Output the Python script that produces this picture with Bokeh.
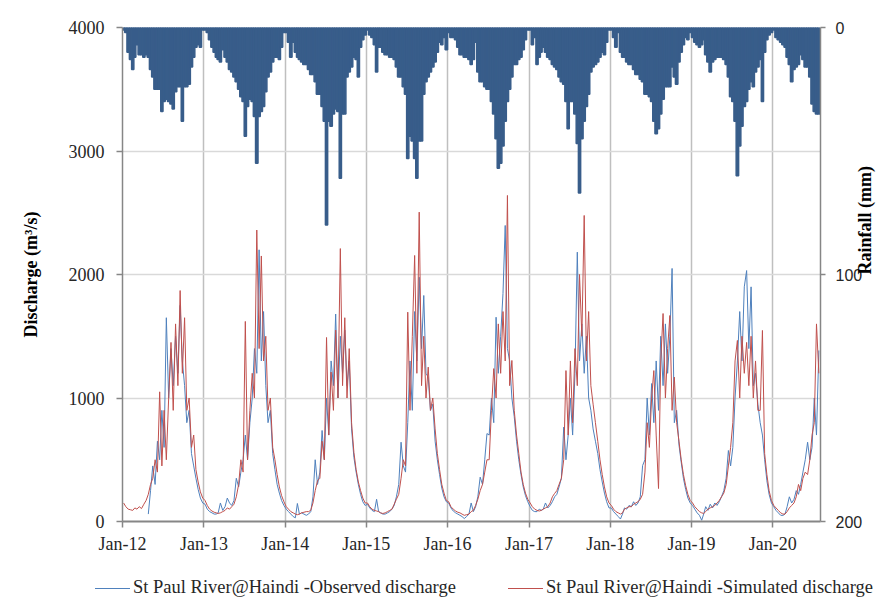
import datetime as dt
import math
from bokeh.plotting import figure
from bokeh.layouts import column
from bokeh.models import (ColumnDataSource, Range1d, LinearAxis, FixedTicker,
                          DatetimeTickFormatter, Div)
from bokeh.embed import file_html
from bokeh.resources import INLINE

N = None
years = [2012, 2013, 2014, 2015, 2016, 2017, 2018, 2019, 2020]
tick_years = [2012, 2013, 2014, 2015, 2016, 2017, 2018, 2019, 2020]
label_obs = "St Paul River@Haindi -Observed discharge"
label_sim = "St Paul River@Haindi -Simulated discharge"

# dekadal values (3 per month, Jan..Dec)
obs_2012 = [N, N, N, N, N, N, N, N, N, N, N, 60, 250, 450, 300, 650, 500, 900,
            600, 1650, 1000, 1400, 1100, 1500, 1200, 1750, 1300, 1100, 800, 900,
            550, 450, 350, 260, 190, 150]
sim_2012 = [150, 120, 100, 95, 90, 110, 100, 120, 105, 140, 170, 220, 300, 350, 500,
            400, 1050, 450, 900, 500, 1000, 1450, 900, 1600, 1100, 1870, 1200,
            1650, 900, 1000, 600, 700, 420, 320, 240, 190]
rain_2012 = [1, 2, 10, 13, 17, 12, 7, 11, 11, 12, 11, 12, 17, 20, 25, 25, 25, 34,
             30, 29, 30, 31, 33, 26, 24, 24, 38, 24, 24, 23, 16, 12, 8, 7, 8, 1]

obs_2013 = [140, 100, 80, 70, 60, 60, 70, 150, 90, 120, 190, 150, 130, 170, 350,
            280, 400, 500, 700, 500, 800, 1000, 1400, 1200, 2200, 1300, 1700,
            1100, 800, 900, 550, 420, 300, 230, 170, 130]
sim_2013 = [170, 130, 100, 85, 75, 70, 65, 70, 80, 90, 110, 100, 120, 140, 200,
            300, 500, 400, 1620, 500, 900, 1200, 1000, 2360, 1400, 2150, 1300,
            1500, 900, 1000, 600, 500, 380, 280, 210, 160]
rain_2013 = [1, 2, 5, 8, 10, 12, 13, 14, 9, 12, 14, 17, 18, 20, 22, 25, 28, 30,
             44, 32, 29, 30, 36, 55, 36, 34, 32, 26, 20, 18, 14, 12, 12, 13, 8, 2]

obs_2014 = [100, 80, 60, 40, 30, 146, 60, 70, 60, 50, 60, 80, 200, 500, 300,
            400, 737, 500, 1000, 700, 1300, 1100, 1680, 1000, 1500, 1200, 1550,
            1100, 1300, 750, 520, 400, 300, 220, 160, 130]
sim_2014 = [120, 100, 80, 70, 60, 55, 60, 70, 75, 80, 80, 90, 150, 250, 330,
            350, 650, 500, 1490, 700, 1210, 900, 1550, 1000, 2210, 1100, 1650,
            1000, 1400, 800, 560, 420, 320, 250, 190, 150]
rain_2014 = [2, 6, 12, 6, 10, 12, 13, 14, 15, 15, 17, 19, 19, 22, 27, 27, 32, 38,
             80, 38, 40, 35, 33, 34, 61, 35, 35, 20, 18, 16, 12, 13, 20, 8, 5, 3]

obs_2015 = [140, 110, 90, 80, 180, 80, 70, 60, 60, 70, 80, 100, 130, 200, 300,
            642, 450, 400, 800, 1300, 900, 1700, 1300, 1978, 1400, 1830, 1200,
            1168, 900, 950, 650, 500, 380, 270, 200, 160]
sim_2015 = [150, 120, 100, 90, 85, 80, 70, 65, 70, 80, 90, 100, 140, 180, 220,
            350, 500, 450, 1695, 900, 1500, 2154, 1200, 2505, 1100, 1500, 1000,
            1250, 900, 1000, 750, 550, 420, 300, 230, 170]
rain_2015 = [1, 3, 4, 7, 18, 8, 8, 10, 11, 11, 12, 12, 13, 16, 20, 20, 24, 27,
             53, 44, 46, 53, 61, 46, 46, 27, 22, 20, 18, 16, 14, 10, 6, 7, 4, 9]

obs_2016 = [150, 110, 85, 70, 60, 50, 40, 24, 40, 60, 150, 80, 120, 200, 359,
            300, 500, 712, 700, 1000, 800, 1654, 1200, 1500, 1846, 2397, 1400,
            1300, 1000, 850, 650, 500, 380, 280, 210, 160]
sim_2016 = [160, 120, 100, 85, 75, 70, 60, 50, 55, 60, 80, 90, 130, 180, 250,
            300, 400, 500, 500, 900, 1238, 1000, 1600, 1200, 1700, 1300, 2640,
            1100, 1304, 900, 700, 550, 400, 300, 230, 180]
rain_2016 = [2, 4, 4, 5, 8, 11, 11, 12, 12, 13, 15, 13, 6, 18, 22, 22, 24, 25,
             25, 30, 35, 45, 57, 55, 48, 38, 30, 25, 20, 15, 15, 13, 12, 9, 5, 1]

obs_2017 = [120, 90, 80, 80, 100, 90, 100, 150, 110, 130, 160, 200, 220, 280, 350,
            764, 500, 700, 1000, 700, 1200, 2181, 1300, 1600, 1200, 1500, 1000,
            900, 750, 650, 550, 420, 320, 230, 160, 110]
sim_2017 = [150, 120, 100, 90, 85, 90, 100, 110, 120, 150, 200, 227, 250, 300, 350,
            500, 1222, 700, 1300, 800, 1400, 1100, 2000, 1500, 2478, 1300, 1700,
            1100, 950, 800, 650, 500, 380, 280, 200, 150]
rain_2017 = [1, 7, 4, 15, 12, 10, 8, 10, 12, 13, 15, 16, 17, 20, 22, 23, 30, 41,
             30, 30, 35, 47, 67, 45, 38, 32, 27, 18, 16, 15, 14, 12, 10, 11, 6, 1]

obs_2018 = [110, 80, 60, 40, 20, 60, 110, 100, 130, 120, 160, 130, 150, 200, 453,
            500, 1000, 700, 1117, 800, 1300, 900, 1500, 1100, 1600, 1200, 1500,
            2049, 800, 900, 620, 480, 350, 260, 190, 150]
sim_2018 = [130, 100, 80, 70, 60, 70, 100, 110, 120, 120, 140, 150, 160, 180, 220,
            400, 800, 600, 1000, 1222, 700, 267, 1300, 1684, 1000, 1400, 1668,
            900, 1169, 800, 650, 500, 380, 290, 220, 170]
rain_2018 = [1, 4, 8, 2, 10, 12, 12, 14, 15, 15, 17, 19, 19, 21, 22, 27, 27, 28,
             30, 38, 43, 41, 35, 29, 24, 24, 24, 16, 20, 23, 14, 10, 7, 4, 5, 2]

obs_2019 = [130, 100, 70, 50, 10, 60, 120, 90, 140, 110, 150, 130, 160, 200, 250,
            350, 575, 450, 600, 1000, 1300, 1700, 1300, 1900, 2032, 1400, 1900,
            1100, 1200, 950, 800, 700, 500, 330, 220, 150]
sim_2019 = [150, 120, 100, 80, 70, 65, 80, 100, 110, 120, 130, 150, 170, 200, 230,
            300, 450, 600, 800, 1300, 1466, 1000, 1500, 1200, 1450, 1100, 1500,
            1000, 1300, 900, 900, 1547, 550, 380, 250, 170]
rain_2019 = [4, 6, 7, 8, 7, 5, 11, 14, 18, 14, 13, 12, 12, 12, 13, 15, 20, 28,
             30, 38, 60, 48, 40, 32, 30, 25, 22, 24, 18, 16, 13, 30, 10, 5, 3, 2]

obs_2020 = [120, 90, 70, 50, 49, 60, 120, 200, 150, 180, 250, 220, 300, 400, 500,
            642, 500, 600, 1000, 700, 1385]
sim_2020 = [130, 110, 90, 70, 60, 60, 80, 110, 130, 150, 200, 300, 250, 350, 400,
            380, 500, 700, 800, 1600, 1200]
rain_2020 = [1, 4, 5, 6, 7, 8, 12, 15, 22, 17, 16, 15, 11, 13, 16, 16, 20, 31,
             34, 35, 35]

obs_years = [obs_2012, obs_2013, obs_2014, obs_2015, obs_2016, obs_2017, obs_2018, obs_2019, obs_2020]
sim_years = [sim_2012, sim_2013, sim_2014, sim_2015, sim_2016, sim_2017, sim_2018, sim_2019, sim_2020]
rain_years = [rain_2012, rain_2013, rain_2014, rain_2015, rain_2016, rain_2017, rain_2018, rain_2019, rain_2020]


def dekad_bounds(year, i):
    m = i // 3 + 1
    k = i % 3
    start = dt.datetime(year, m, 1 + 10 * k)
    if k < 2:
        end = dt.datetime(year, m, 11 + 10 * k)
    else:
        end = dt.datetime(year + (1 if m == 12 else 0), m % 12 + 1, 1)
    return start, end


xs, lefts, rights, obs, sim, rain = [], [], [], [], [], []
for y, o_list, s_list, r_list in zip(years, obs_years, sim_years, rain_years):
    for i in range(len(s_list)):
        a, b = dekad_bounds(y, i)
        lefts.append(a)
        rights.append(b)
        xs.append(a + (b - a) / 2)
        o = o_list[i]
        obs.append(float("nan") if o is None else float(o))
        sim.append(float(s_list[i]))
        rain.append(float(r_list[i]))

src = ColumnDataSource(dict(x=xs, left=lefts, right=rights, obs=obs, sim=sim, rain=rain))

OBS_COLOR = "#4F81BD"
SIM_COLOR = "#C0504D"
RAIN_COLOR = "#385D8A"

p = figure(width=888, height=558, x_axis_type="datetime",
           x_range=Range1d(dt.datetime(2012, 1, 1), dt.datetime(2020, 8, 3)),
           y_range=Range1d(0, 4000),
           output_backend="svg", toolbar_location=None,
           min_border_left=122, min_border_right=66,
           min_border_top=27, min_border_bottom=37)
p.outline_line_color = None
p.background_fill_color = "white"
p.border_fill_color = "white"

p.extra_y_ranges = {"rain": Range1d(200, 0)}

epoch = dt.datetime(1970, 1, 1)
year_ticks = [(dt.datetime(y, 1, 1) - epoch).total_seconds() * 1000 for y in tick_years]
xticker = FixedTicker(ticks=year_ticks)

xa = p.xaxis[0]
xa.ticker = xticker
xa.formatter = DatetimeTickFormatter(years="%b-%y", months="%b-%y", days="%b-%y",
                                     hours="%b-%y", minutes="%b-%y", seconds="%b-%y",
                                     milliseconds="%b-%y", microseconds="%b-%y")
ya = p.yaxis[0]
ya.ticker = FixedTicker(ticks=[0, 1000, 2000, 3000, 4000])
ya.axis_label = "Discharge (m³/s)"

rain_axis = LinearAxis(y_range_name="rain", ticker=FixedTicker(ticks=[0, 100, 200]),
                       axis_label="Rainfall (mm)")
p.add_layout(rain_axis, "right")
try:
    rain_axis.axis_label_orientation = math.pi / 2
except Exception:
    pass

for ax in (xa, ya, rain_axis):
    ax.axis_line_color = "#868686"
    ax.axis_line_width = 1.5
    ax.major_tick_line_color = "#868686"
    ax.major_tick_line_width = 1.5
    ax.major_tick_out = 6
    ax.major_tick_in = 0
    ax.minor_tick_line_color = None
    ax.major_label_text_color = "#262626"
    ax.axis_label_text_color = "#000000"
    ax.axis_label_text_font = "Liberation Serif"
    ax.axis_label_text_font_style = "bold"
    ax.axis_label_text_font_size = "18px"

xa.axis_line_width = 2
xa.major_label_text_font = "Liberation Serif"
xa.major_label_text_font_size = "18px"
xa.major_label_standoff = 6
ya.major_label_text_font = "Liberation Serif"
ya.major_label_text_font_size = "18px"
ya.major_label_standoff = 12
ya.axis_label_standoff = 25
rain_axis.major_tick_out = 5
rain_axis.major_label_text_font = "Liberation Sans"
rain_axis.major_label_text_font_size = "16px"
rain_axis.major_label_standoff = 10
rain_axis.axis_label_standoff = 0

p.xgrid.ticker = xticker
p.xgrid.grid_line_color = "#BFBFBF"
p.xgrid.grid_line_width = 1.5
p.ygrid.grid_line_color = "#D9D9D9"
p.ygrid.grid_line_width = 1.5

p.quad(left="left", right="right", top=0, bottom="rain", source=src,
       y_range_name="rain", fill_color=RAIN_COLOR, line_color=RAIN_COLOR, line_width=1.5)
p.line("x", "obs", source=src, line_color=OBS_COLOR, line_width=1)
p.line("x", "sim", source=src, line_color=SIM_COLOR, line_width=1)

# legend strip underneath the chart (HTML text)
legend_html = (
    "<div style=\"position:relative;width:888px;height:40px;"
    "font-family:'Liberation Serif',serif;font-size:18.5px;color:#262626;"
    "line-height:21px;white-space:nowrap;\">"
    f"<div style=\"position:absolute;left:95px;top:30px;width:35px;height:0;"
    f"border-top:1px solid {OBS_COLOR};\"></div>"
    f"<div style=\"position:absolute;left:133px;top:19px;\">{label_obs}</div>"
    f"<div style=\"position:absolute;left:508px;top:30px;width:35px;height:0;"
    f"border-top:1px solid {SIM_COLOR};\"></div>"
    f"<div style=\"position:absolute;left:546px;top:19px;\">{label_sim}</div>"
    "</div>"
)
legend_div = Div(text=legend_html, width=888, height=40, margin=(0, 0, 0, 0))

layout = column(p, legend_div, spacing=0)
open("out.html", "w").write(file_html(layout, INLINE))
